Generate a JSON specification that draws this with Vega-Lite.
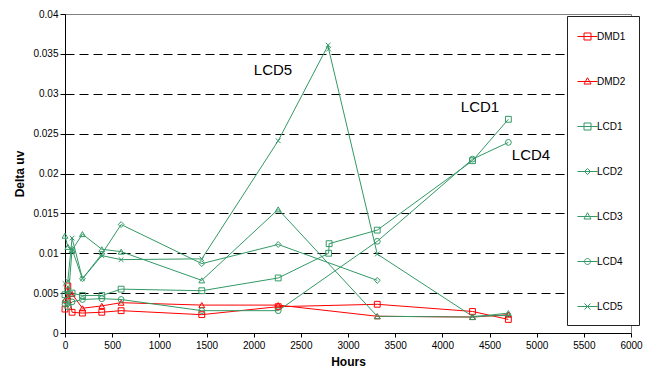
{
  "$schema": "https://vega.github.io/schema/vega-lite/v6.json",
  "width": 566,
  "height": 319,
  "autosize": "none",
  "padding": {"left": 65, "top": 14, "right": 21, "bottom": 38},
  "background": "white",
  "config": {"font": "Liberation Sans", "view": {"stroke": "#808080", "strokeWidth": 1}},
  "datasets": {
    "series": [
      {"s": "DMD1", "i": 1, "h": 0, "v": 0.0030},
      {"s": "DMD1", "i": 2, "h": 30, "v": 0.0059},
      {"s": "DMD1", "i": 3, "h": 75, "v": 0.0026},
      {"s": "DMD1", "i": 4, "h": 185, "v": 0.0025},
      {"s": "DMD1", "i": 5, "h": 390, "v": 0.0026},
      {"s": "DMD1", "i": 6, "h": 595, "v": 0.0028},
      {"s": "DMD1", "i": 7, "h": 1450, "v": 0.0023},
      {"s": "DMD1", "i": 8, "h": 2260, "v": 0.0033},
      {"s": "DMD1", "i": 9, "h": 3310, "v": 0.0036},
      {"s": "DMD1", "i": 10, "h": 4320, "v": 0.0027},
      {"s": "DMD1", "i": 11, "h": 4700, "v": 0.0017},
      {"s": "DMD2", "i": 1, "h": 0, "v": 0.0041},
      {"s": "DMD2", "i": 2, "h": 30, "v": 0.0046},
      {"s": "DMD2", "i": 3, "h": 75, "v": 0.0049},
      {"s": "DMD2", "i": 4, "h": 185, "v": 0.0031},
      {"s": "DMD2", "i": 5, "h": 390, "v": 0.0034},
      {"s": "DMD2", "i": 6, "h": 595, "v": 0.0038},
      {"s": "DMD2", "i": 7, "h": 1450, "v": 0.0035},
      {"s": "DMD2", "i": 8, "h": 2260, "v": 0.0035},
      {"s": "DMD2", "i": 9, "h": 3310, "v": 0.0021},
      {"s": "DMD2", "i": 10, "h": 4320, "v": 0.0020},
      {"s": "DMD2", "i": 11, "h": 4700, "v": 0.0023},
      {"s": "LCD1", "i": 1, "h": 0, "v": 0.0048},
      {"s": "LCD1", "i": 2, "h": 30, "v": 0.0053},
      {"s": "LCD1", "i": 3, "h": 75, "v": 0.0050},
      {"s": "LCD1", "i": 4, "h": 185, "v": 0.0047},
      {"s": "LCD1", "i": 5, "h": 390, "v": 0.0047},
      {"s": "LCD1", "i": 6, "h": 595, "v": 0.0055},
      {"s": "LCD1", "i": 7, "h": 1450, "v": 0.0053},
      {"s": "LCD1", "i": 8, "h": 2260, "v": 0.0069},
      {"s": "LCD1", "i": 9, "h": 2795, "v": 0.0100},
      {"s": "LCD1", "i": 10, "h": 2800, "v": 0.0112},
      {"s": "LCD1", "i": 11, "h": 3310, "v": 0.0129},
      {"s": "LCD1", "i": 12, "h": 4320, "v": 0.0216},
      {"s": "LCD1", "i": 13, "h": 4700, "v": 0.0268},
      {"s": "LCD2", "i": 1, "h": 0, "v": 0.0040},
      {"s": "LCD2", "i": 2, "h": 30, "v": 0.0036},
      {"s": "LCD2", "i": 3, "h": 75, "v": 0.0105},
      {"s": "LCD2", "i": 4, "h": 185, "v": 0.0068},
      {"s": "LCD2", "i": 5, "h": 390, "v": 0.0099},
      {"s": "LCD2", "i": 6, "h": 595, "v": 0.0136},
      {"s": "LCD2", "i": 7, "h": 1450, "v": 0.0087},
      {"s": "LCD2", "i": 8, "h": 2260, "v": 0.0111},
      {"s": "LCD2", "i": 9, "h": 3310, "v": 0.0066},
      {"s": "LCD3", "i": 1, "h": 0, "v": 0.0122},
      {"s": "LCD3", "i": 2, "h": 30, "v": 0.0108},
      {"s": "LCD3", "i": 3, "h": 75, "v": 0.0104},
      {"s": "LCD3", "i": 4, "h": 185, "v": 0.0124},
      {"s": "LCD3", "i": 5, "h": 390, "v": 0.0105},
      {"s": "LCD3", "i": 6, "h": 595, "v": 0.0102},
      {"s": "LCD3", "i": 7, "h": 1450, "v": 0.0066},
      {"s": "LCD3", "i": 8, "h": 2260, "v": 0.0155},
      {"s": "LCD3", "i": 9, "h": 3310, "v": 0.0021},
      {"s": "LCD3", "i": 10, "h": 4320, "v": 0.0020},
      {"s": "LCD3", "i": 11, "h": 4700, "v": 0.0025},
      {"s": "LCD4", "i": 1, "h": 0, "v": 0.0036},
      {"s": "LCD4", "i": 2, "h": 30, "v": 0.0033},
      {"s": "LCD4", "i": 3, "h": 75, "v": 0.0039},
      {"s": "LCD4", "i": 4, "h": 185, "v": 0.0042},
      {"s": "LCD4", "i": 5, "h": 390, "v": 0.0043},
      {"s": "LCD4", "i": 6, "h": 595, "v": 0.0042},
      {"s": "LCD4", "i": 7, "h": 1450, "v": 0.0028},
      {"s": "LCD4", "i": 8, "h": 2260, "v": 0.0028},
      {"s": "LCD4", "i": 9, "h": 3310, "v": 0.0115},
      {"s": "LCD4", "i": 10, "h": 4320, "v": 0.0218},
      {"s": "LCD4", "i": 11, "h": 4700, "v": 0.0239},
      {"s": "LCD5", "i": 1, "h": 0, "v": 0.0062},
      {"s": "LCD5", "i": 2, "h": 30, "v": 0.0065},
      {"s": "LCD5", "i": 3, "h": 75, "v": 0.0119},
      {"s": "LCD5", "i": 4, "h": 185, "v": 0.0068},
      {"s": "LCD5", "i": 5, "h": 390, "v": 0.0097},
      {"s": "LCD5", "i": 6, "h": 595, "v": 0.0092},
      {"s": "LCD5", "i": 7, "h": 1450, "v": 0.0093},
      {"s": "LCD5", "i": 8, "h": 2260, "v": 0.0241},
      {"s": "LCD5", "i": 9, "h": 2790, "v": 0.0361},
      {"s": "LCD5", "i": 10, "h": 2795, "v": 0.0356},
      {"s": "LCD5", "i": 11, "h": 3310, "v": 0.0099},
      {"s": "LCD5", "i": 12, "h": 4320, "v": 0.0021},
      {"s": "LCD5", "i": 13, "h": 4700, "v": 0.0022}
    ],
    "notes": [
      {"t": "LCD5", "h": 2205, "v": 0.0330},
      {"t": "LCD1", "h": 4399, "v": 0.02834},
      {"t": "LCD4", "h": 4940, "v": 0.02232}
    ]
  },
  "data": {"name": "series"},
  "encoding": {
    "x": {
      "field": "h", "type": "quantitative", "title": "Hours",
      "scale": {"domain": [0, 6000], "nice": false, "zero": false},
      "axis": {"grid": false, "tickCount": 12, "format": "d", "domainColor": "black", "tickColor": "black", "tickSize": 4,
               "labelFontSize": 10, "labelColor": "#000", "labelPadding": 3, "labelFlush": false,
               "titleFontSize": 12, "titleFontWeight": "bold", "titleColor": "#000", "titlePadding": 6}
    },
    "y": {
      "field": "v", "type": "quantitative", "title": "Delta uv",
      "scale": {"domain": [0, 0.04], "nice": false},
      "axis": {"grid": true, "tickCount": 8, "gridColor": "black", "gridDash": [9, 5],
               "gridOpacity": {"condition": {"test": "datum.value <= 0 || datum.value >= 0.04", "value": 0}, "value": 1},
               "domainColor": "black", "tickColor": "black", "tickSize": 5, "format": ".3~f",
               "labelFontSize": 10, "labelColor": "#000", "labelPadding": 2, "labelFlush": false,
               "titleFontSize": 12, "titleFontWeight": "bold", "titleColor": "#000", "titlePadding": 6}
    }
  },
  "layer": [
    {
      "mark": {"type": "line", "strokeWidth": 1},
      "encoding": {
        "color": {"field": "s", "type": "nominal",
                  "scale": {"domain": ["DMD1", "DMD2", "LCD1", "LCD2", "LCD3", "LCD4", "LCD5"],
                            "range": ["#ff0000", "#ff0000", "#339966", "#339966", "#339966", "#339966", "#339966"]},
                  "legend": null},
        "order": {"field": "i", "type": "quantitative"}
      }
    },
    {
      "mark": {"type": "point", "filled": false, "size": 34, "strokeWidth": 1, "opacity": 1},
      "encoding": {
        "color": {"field": "s", "type": "nominal", "legend": null,
                  "scale": {"domain": ["DMD1", "DMD2", "LCD1", "LCD2", "LCD3", "LCD4", "LCD5"],
                            "range": ["#ff0000", "#ff0000", "#339966", "#339966", "#339966", "#339966", "#339966"]}},
        "shape": {"field": "s", "type": "nominal", "legend": null,
                  "scale": {"domain": ["DMD1", "DMD2", "LCD1", "LCD2", "LCD3", "LCD4", "LCD5"],
                            "range": ["square", "triangle-up", "square", "diamond", "triangle-up", "circle", "M-0.8,-0.8L0.8,0.8M-0.8,0.8L0.8,-0.8"]}}
      }
    },
    {
      "transform": [{"filter": "false"}],
      "mark": {"type": "point", "filled": false, "opacity": 1},
      "encoding": {
        "color": {"field": "s", "type": "nominal",
                  "scale": {"domain": ["DMD1", "DMD2", "LCD1", "LCD2", "LCD3", "LCD4", "LCD5"],
                            "range": ["#ff0000", "#ff0000", "#339966", "#339966", "#339966", "#339966", "#339966"]},
                  "legend": {
                    "orient": "none", "legendX": 502, "legendY": 2, "title": null,
                    "padding": 13, "rowPadding": 32, "symbolSize": 196, "symbolStrokeWidth": 1,
                    "labelFontSize": 10, "labelOffset": 2, "labelColor": "#000",
                    "fillColor": "white", "strokeColor": "#222"
                  }},
        "shape": {"field": "s", "type": "nominal",
                  "scale": {"domain": ["DMD1", "DMD2", "LCD1", "LCD2", "LCD3", "LCD4", "LCD5"],
                            "range": [
                              "M-1.43,0H1.43M-0.5,-0.5H0.5V0.5H-0.5Z",
                              "M-1.43,0H1.43M0,-0.54L0.5,0.36H-0.5Z",
                              "M-1.43,0H1.43M-0.5,-0.5H0.5V0.5H-0.5Z",
                              "M-1.43,0H1.43M0,-0.43L0.43,0L0,0.43L-0.43,0Z",
                              "M-1.43,0H1.43M0,-0.54L0.5,0.36H-0.5Z",
                              "M-1.43,0H1.43M0.43,0A0.43,0.43 0 1 1 -0.43,0A0.43,0.43 0 1 1 0.43,0Z",
                              "M-1.43,0H1.43M-0.43,-0.43L0.43,0.43M-0.43,0.43L0.43,-0.43"
                            ]},
                  "legend": {
                    "orient": "none", "legendX": 502, "legendY": 2, "title": null,
                    "padding": 13, "rowPadding": 32, "symbolSize": 196, "symbolStrokeWidth": 1,
                    "labelFontSize": 10, "labelOffset": 2, "labelColor": "#000",
                    "fillColor": "white", "strokeColor": "#222"
                  }}
      }
    },
    {
      "data": {"name": "notes"},
      "mark": {"type": "text", "fontSize": 15, "font": "Liberation Sans", "color": "#000", "align": "center", "baseline": "middle"},
      "encoding": {"text": {"field": "t", "type": "nominal"}}
    }
  ],
  "resolve": {"scale": {"shape": "independent", "color": "independent"}}
}
